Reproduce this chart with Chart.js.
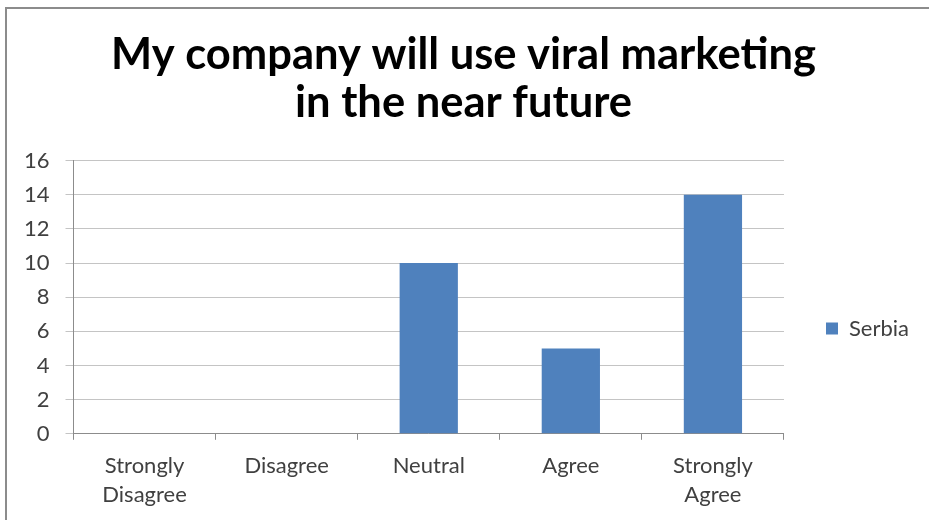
<!DOCTYPE html>
<html>
<head>
<meta charset="utf-8">
<script src="https://cdn.jsdelivr.net/npm/chart.js@4"></script>
<style>
  html, body { margin: 0; padding: 0; background: #fff; }
  #wrap { position: relative; width: 929px; height: 520px; overflow: hidden; }
  #frame { position: absolute; left: 5px; top: 7px; width: 940px; height: 540px; border: 2px solid #8c8c8c; box-sizing: border-box; }
  #chart { position: absolute; left: 0; top: 0; }
</style>
</head>
<body>
<div id="wrap">
  <div id="frame"></div>
  <canvas id="chart" width="929" height="520"></canvas>
</div>
<script>
// ===== DATA =====
const categories = [['Strongly', 'Disagree'], 'Disagree', 'Neutral', 'Agree', ['Strongly', 'Agree']];
const serbia = [0, 0, 10, 5, 14];
const titleLines = ['My company will use viral marketing', 'in the near future'];

const FONT = "Lato, 'Open Sans', sans-serif";

new Chart(document.getElementById('chart'), {
  type: 'bar',
  data: {
    labels: categories,
    datasets: [{ label: 'Serbia', data: serbia, backgroundColor: '#4f81bd', borderWidth: 0 }]
  },
  options: {
    responsive: false,
    animation: false,
    layout: { padding: { left: 8, right: 10, top: 0, bottom: -1 } },
    plugins: {
      title: {
        display: true,
        text: titleLines,
        color: '#000',
        font: { family: FONT, size: 43.5, weight: 'bold', lineHeight: 1.11 },
        padding: { top: 31, bottom: 33 }
      },
      legend: {
        position: 'right',
        // empty legend title only pushes the entry down to where the reference has it
        title: { display: true, text: ' ', padding: { top: 112, bottom: 0 }, font: { size: 20 } },
        labels: { color: '#404040', font: { family: FONT, size: 22 }, boxWidth: 12, boxHeight: 12, padding: 42 }
      },
      tooltip: { enabled: false }
    },
    datasets: { bar: { categoryPercentage: 1, barPercentage: 0.41 } },
    scales: {
      x: {
        grid: { drawOnChartArea: false, color: '#8c8c8c', tickLength: 6 },
        border: { color: '#8c8c8c' },
        ticks: { color: '#404040', font: { family: FONT, size: 22, lineHeight: 1.3 }, padding: 12, maxRotation: 0, autoSkip: false }
      },
      y: {
        min: 0, max: 16,
        grid: { color: '#c4c4c4', tickLength: 8 },
        border: { color: '#8c8c8c' },
        ticks: { stepSize: 2, color: '#404040', font: { family: FONT, size: 22 }, padding: 16 }
      }
    }
  }
});
</script>
</body>
</html>
